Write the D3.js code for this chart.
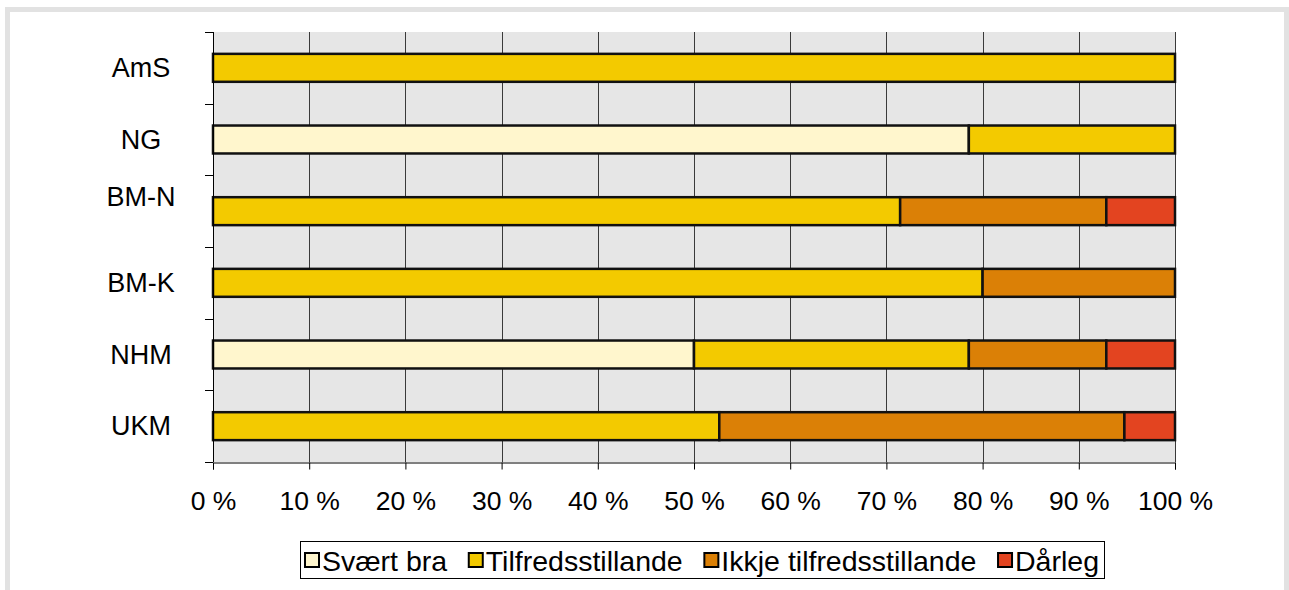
<!DOCTYPE html>
<html>
<head>
<meta charset="utf-8">
<script src="https://cdn.jsdelivr.net/npm/d3@7"></script>
<style>
  body { margin: 0; background: #fff; }
  text { font-family: "Liberation Sans", Arial, sans-serif; fill: #000; }
</style>
</head>
<body>
<div id="chart"></div>
<script>
const categories = ["AmS", "NG", "BM-N", "BM-K", "NHM", "UKM"];
const seriesNames = ["Svært bra", "Tilfredsstillande", "Ikkje tilfredsstillande", "Dårleg"];
const svaertBra = [0, 78.57, 0, 0, 50, 0];
const tilfreds = [100, 21.43, 71.43, 80, 28.57, 52.63];
const ikkjeTilfreds = [0, 0, 21.43, 20, 14.29, 42.11];
const daarleg = [0, 0, 7.14, 0, 7.14, 5.26];
const tickValues = [0, 10, 20, 30, 40, 50, 60, 70, 80, 90, 100];

const colors = ["#fff6cd", "#f3ca00", "#db8006", "#e34420"];

const width = 1289;
const height = 590;
const margin = { top: 32, left: 213, bottom: 128, right: 114 };

const svg = d3.select("#chart")
  .append("svg")
  .attr("width", width)
  .attr("height", height);

// outer frame
svg.append("rect")
  .attr("x", 7.5).attr("y", 9.5)
  .attr("width", 1279).attr("height", 590)
  .attr("fill", "#fff")
  .attr("stroke", "#e2e2e2")
  .attr("stroke-width", 5);

const x = d3.scaleLinear()
  .domain([0, 100])
  .range([margin.left, width - margin.right]);

const y = d3.scaleBand()
  .domain(categories)
  .range([margin.top, height - margin.bottom])
  .paddingInner(0.61)
  .paddingOuter(0.305);

const bandStep = y.step();

// plot background
svg.append("rect")
  .attr("x", x(0)).attr("y", margin.top)
  .attr("width", x(100) - x(0))
  .attr("height", height - margin.bottom - margin.top)
  .attr("fill", "#e6e6e6");

// grid lines
svg.append("g")
  .selectAll("line")
  .data(tickValues.slice(1))
  .join("line")
  .attr("x1", (d) => Math.round(x(d)) + 0.5)
  .attr("x2", (d) => Math.round(x(d)) + 0.5)
  .attr("y1", margin.top)
  .attr("y2", height - margin.bottom)
  .attr("stroke", "#3a3a3a")
  .attr("stroke-width", 1);

// stacked bars
const rows = categories.map((c, i) => ({
  cat: c,
  vals: [svaertBra[i], tilfreds[i], ikkjeTilfreds[i], daarleg[i]]
}));
const segs = [];
rows.forEach((r) => {
  let acc = 0;
  r.vals.forEach((v, k) => {
    if (v > 0) segs.push({ cat: r.cat, k: k, x0: acc, x1: acc + v });
    acc += v;
  });
});

svg.append("g")
  .selectAll("rect")
  .data(segs)
  .join("rect")
  .attr("x", (d) => x(d.x0))
  .attr("y", (d) => y(d.cat))
  .attr("width", (d) => x(d.x1) - x(d.x0))
  .attr("height", y.bandwidth())
  .attr("fill", (d) => colors[d.k])
  .attr("stroke", "#111")
  .attr("stroke-width", 2.5);

// y axis line and ticks at band edges
const yEdges = d3.range(categories.length + 1).map((i) => margin.top + i * bandStep);
svg.append("line")
  .attr("x1", x(0) + 0.5).attr("x2", x(0) + 0.5)
  .attr("y1", margin.top).attr("y2", height - margin.bottom)
  .attr("stroke", "#000");
svg.append("g")
  .selectAll("line")
  .data(yEdges)
  .join("line")
  .attr("x1", x(0) - 8).attr("x2", x(0))
  .attr("y1", (d) => Math.round(d) + 0.5)
  .attr("y2", (d) => Math.round(d) + 0.5)
  .attr("stroke", "#000");

// x axis
const xAxis = svg.append("g")
  .attr("transform", `translate(0,${height - margin.bottom + 0.5})`)
  .call(d3.axisBottom(x).tickValues(tickValues).tickSize(7).tickPadding(22)
    .tickFormat((d) => d + " %"));
xAxis.select(".domain").attr("stroke", "#000");
xAxis.selectAll(".tick line").attr("stroke", "#000");
xAxis.selectAll("text")
  .attr("font-size", 26.5)
  .attr("font-family", "Liberation Sans, Arial, sans-serif");

// category labels
const labelNudge = { "BM-N": -14 };
svg.append("g")
  .selectAll("text")
  .data(categories)
  .join("text")
  .attr("x", 141)
  .attr("y", (d) => y(d) + y.bandwidth() / 2 + (labelNudge[d] || 0))
  .attr("text-anchor", "middle")
  .attr("dominant-baseline", "central")
  .attr("font-size", 27)
  .text((d) => d);

// legend
const legendLeft = 300;
const legendRight = 1104;
const legendMid = 560;
const swatch = 14;
const legend = svg.append("g");
legend.append("rect")
  .attr("x", legendLeft + 0.5).attr("y", legendMid - 18.5)
  .attr("width", legendRight - legendLeft).attr("height", 37)
  .attr("fill", "#fff")
  .attr("stroke", "#000")
  .attr("stroke-width", 1);
const itemGroups = seriesNames.map((name, k) => {
  const g = legend.append("g");
  g.append("rect")
    .attr("x", 0).attr("y", legendMid - swatch / 2)
    .attr("width", swatch).attr("height", swatch)
    .attr("fill", colors[k])
    .attr("stroke", "#000")
    .attr("stroke-width", 2);
  const t = g.append("text")
    .attr("x", swatch + 3)
    .attr("y", legendMid + 1)
    .attr("dominant-baseline", "central")
    .attr("font-size", 28.5)
    .text(name);
  return { g: g, w: swatch + 3 + t.node().getComputedTextLength() };
});
const pad = 5;
const used = d3.sum(itemGroups, (d) => d.w);
const gap = (legendRight - legendLeft - 2 * pad - used) / (itemGroups.length - 1);
let lx = legendLeft + pad;
itemGroups.forEach((it) => {
  it.g.attr("transform", `translate(${lx},0)`);
  lx += it.w + gap;
});
</script>
</body>
</html>
